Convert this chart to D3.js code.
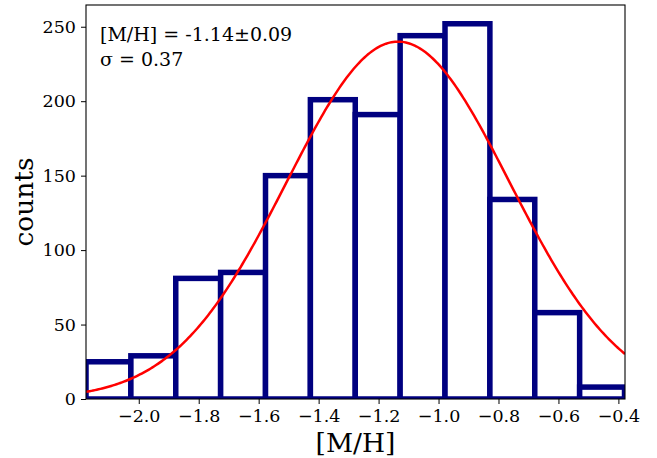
<!DOCTYPE html>
<html><head><meta charset="utf-8">
<script src="https://cdn.jsdelivr.net/npm/d3@7/dist/d3.min.js"></script>
<style>body{margin:0;background:#fff}svg{display:block}</style>
</head><body>
<script>
// Histogram data
const binStart = -2.176;
const binWidth = 0.1497;
const counts = [25, 29, 81, 85, 150, 201, 191, 244, 252, 134, 58, 8];
// Gaussian fit parameters (shown in the annotation)
const fitMean = -1.135;
const fitSigma = 0.372;
const fitAmp = 240;
const xTicks = [-2.0, -1.8, -1.6, -1.4, -1.2, -1.0, -0.8, -0.6, -0.4];
const yTicks = [0, 50, 100, 150, 200, 250];
const annotation = ["[M/H] = -1.14±0.09", "σ = 0.37"];

const W = 657, H = 458;
const m = {l: 86, r: 625, t: 5, b: 399};
const svg = d3.select("body").append("svg").attr("width", W).attr("height", H);
const x = d3.scaleLinear().domain([-2.176, -0.378]).range([m.l, m.r]);
const y = d3.scaleLinear().domain([0, 264.6]).range([m.b, m.t]);

svg.append("clipPath").attr("id", "clip").append("rect")
  .attr("x", m.l).attr("y", m.t).attr("width", m.r - m.l).attr("height", m.b - m.t);

const bins = counts.map((c, i) => ({x0: binStart + i * binWidth, x1: binStart + (i + 1) * binWidth, c}));
const g = svg.append("g").attr("clip-path", "url(#clip)");
g.selectAll("rect.bar").data(bins).enter().append("rect").attr("class", "bar")
  .attr("x", d => x(d.x0)).attr("width", d => x(d.x1) - x(d.x0))
  .attr("y", d => y(d.c)).attr("height", d => y(0) - y(d.c))
  .attr("fill", "#fff").attr("stroke", "#000080").attr("stroke-width", 5.5);

const xs = d3.range(0, 301).map(i => -2.176 + i * (1.798 / 300));
const line = d3.line().x(d => x(d)).y(d => y(fitAmp * Math.exp(-((d - fitMean) ** 2) / (2 * fitSigma ** 2))));
g.append("path").datum(xs).attr("d", line).attr("fill", "none").attr("stroke", "red").attr("stroke-width", 2.5);

// frame
svg.append("rect").attr("x", m.l).attr("y", m.t).attr("width", m.r - m.l).attr("height", m.b - m.t)
  .attr("fill", "none").attr("stroke", "#000").attr("stroke-width", 1.1);

const fmt = v => d3.format(".1f")(v).replace("-", "−");
const xAxis = d3.axisBottom(x).tickValues(xTicks).tickFormat(fmt).tickSize(5).tickPadding(5.5);
const xg = svg.append("g").attr("transform", `translate(0,${m.b})`).call(xAxis);
const yAxis = d3.axisLeft(y).tickValues(yTicks).tickSize(5).tickPadding(5);
const yg = svg.append("g").attr("transform", `translate(${m.l},0)`).call(yAxis);
[xg, yg].forEach(a => {
  a.select(".domain").remove();
  a.attr("font-family", "DejaVu Serif").attr("font-size", 17.5);
  a.selectAll("text").style("font-family", "DejaVu Serif").style("font-size", "17.5px").attr("fill", "#000");
  a.selectAll("line").attr("stroke", "#000");
});

svg.append("text").attr("x", (m.l + m.r) / 2).attr("y", 451.5).attr("text-anchor", "middle")
  .attr("font-family", "DejaVu Serif").attr("font-size", 26.5).text("[M/H]");
svg.append("text").attr("transform", `translate(33,${(m.t + m.b) / 2}) rotate(-90)`).attr("text-anchor", "middle")
  .attr("font-family", "DejaVu Serif").attr("font-size", 26.5).text("counts");

annotation.forEach((t, i) => {
  svg.append("text").attr("x", 100).attr("y", 41 + i * 24.5)
    .attr("font-family", "DejaVu Serif").attr("font-size", 19).text(t);
});
</script>
</body></html>
